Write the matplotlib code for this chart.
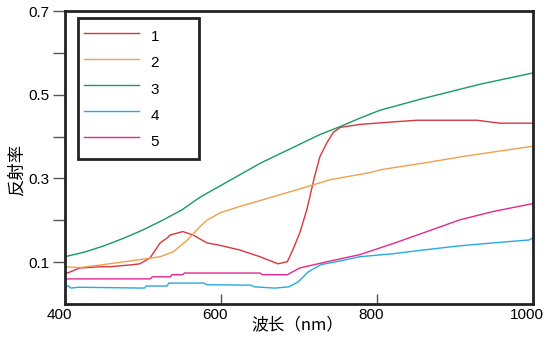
import numpy as np
import matplotlib.pyplot as plt
from matplotlib.transforms import ScaledTranslation

plt.rcParams['font.family'] = ['Liberation Sans', 'Noto Sans CJK SC', 'DejaVu Sans']

# ============================================================
# 数据
# ============================================================
wl_1 = [400, 403, 419, 445, 458, 487, 496, 509, 522, 531, 535, 551, 564, 582, 599,
        624, 650, 673, 685, 692, 701, 710, 720, 727, 736, 744, 753, 778, 813, 851,
        928, 949, 958, 1000]
r_1 = [0.077, 0.074, 0.086, 0.089, 0.089, 0.094, 0.096, 0.110, 0.146, 0.158, 0.165,
       0.173, 0.165, 0.146, 0.140, 0.129, 0.113, 0.096, 0.101, 0.129, 0.170, 0.225,
       0.305, 0.353, 0.386, 0.410, 0.422, 0.429, 0.434, 0.439, 0.439, 0.434, 0.432,
       0.432]

wl_2 = [400, 419, 445, 496, 522, 539, 557, 573, 582, 599, 624, 650, 701, 740, 791,
        805, 864, 912, 1000]
r_2 = [0.089, 0.087, 0.093, 0.106, 0.113, 0.125, 0.153, 0.185, 0.200, 0.218, 0.233,
       0.247, 0.275, 0.297, 0.314, 0.321, 0.338, 0.353, 0.377]

wl_3 = [400, 425, 450, 475, 500, 525, 550, 573, 650, 727, 753, 778, 804, 855, 932, 1000]
r_3 = [0.113, 0.124, 0.139, 0.157, 0.177, 0.200, 0.225, 0.255, 0.336, 0.405, 0.424,
       0.444, 0.463, 0.489, 0.525, 0.552]

wl_4 = [400, 404, 408, 417, 502, 504, 531, 533, 578, 582, 638, 643, 669, 687, 699,
        712, 728, 753, 778, 820, 864, 906, 949, 995, 1000]
r_4 = [0.041, 0.043, 0.038, 0.040, 0.038, 0.043, 0.043, 0.050, 0.050, 0.046, 0.045,
       0.041, 0.038, 0.041, 0.053, 0.077, 0.094, 0.103, 0.113, 0.120, 0.130, 0.139,
       0.146, 0.153, 0.158]

wl_5 = [400, 509, 512, 535, 537, 551, 553, 650, 653, 685, 701, 736, 778, 820, 864,
        906, 949, 1000]
r_5 = [0.060, 0.060, 0.065, 0.065, 0.070, 0.070, 0.074, 0.074, 0.070, 0.070, 0.086,
       0.101, 0.118, 0.144, 0.173, 0.201, 0.221, 0.240]

series = [(wl_1, r_1, '#d9363e', '1'),
          (wl_2, r_2, '#f0a04b', '2'),
          (wl_3, r_3, '#169b62', '3'),
          (wl_4, r_4, '#27aae1', '4'),
          (wl_5, r_5, '#e2288e', '5')]

x_ticks = [400, 600, 800, 1000]
y_ticks = [0.1, 0.2, 0.3, 0.4, 0.5, 0.6, 0.7]
y_ticklabels = ['0.1', '', '0.3', '', '0.5', '', '0.7']

# ============================================================
# 绘图
# ============================================================
fig = plt.figure(figsize=(5.43, 3.45), dpi=100)
ax = fig.add_axes([65 / 543, 41 / 345, 468 / 543, 293 / 345])

for wl, r, c, lab in series:
    # 图例框比文字宽很多, 用尾随空格撑开
    ax.plot(wl, r, color=c, linewidth=1.0, label=lab + '        ')

ax.set_xlim(400, 1000)
ax.set_ylim(0, 0.7)

ax.set_xticks(x_ticks)
ax.set_xticklabels([str(v) for v in x_ticks])
ax.set_yticks(y_ticks)
ax.set_yticklabels(y_ticklabels)
ax.tick_params(axis='x', direction='in', length=7, width=1, color='#555555',
               labelsize=11, pad=3)
ax.tick_params(axis='y', direction='out', length=9, width=1, color='#555555',
               labelsize=11, pad=2)

# x 刻度标签整体左移约 6 像素
shift = ScaledTranslation(-6 / 100, 0, fig.dpi_scale_trans)
for lbl in ax.get_xticklabels():
    lbl.set_transform(lbl.get_transform() + shift)

for s in ax.spines.values():
    s.set_linewidth(2)
    s.set_color('#222222')

cjk = ['Noto Sans CJK SC', 'DejaVu Sans']
ax.set_xlabel('波长（nm）', family=cjk, fontsize=12)
ax.set_ylabel('反射率', family=cjk, fontsize=12.5)
ax.xaxis.set_label_coords(0.497, -0.043)
ax.yaxis.set_label_coords(-0.103, 0.457)
ax.yaxis.label.set_va('center')

leg = ax.legend(loc='upper left', bbox_to_anchor=(0.028, 0.976), fontsize=11,
                handlelength=3.6, handleheight=2.1, handletextpad=0.75,
                labelspacing=0.1, borderpad=0.4, fancybox=False, framealpha=1,
                borderaxespad=0)
leg.get_frame().set_edgecolor('#222222')
leg.get_frame().set_linewidth(2)

plt.savefig('out.png', dpi=100)
